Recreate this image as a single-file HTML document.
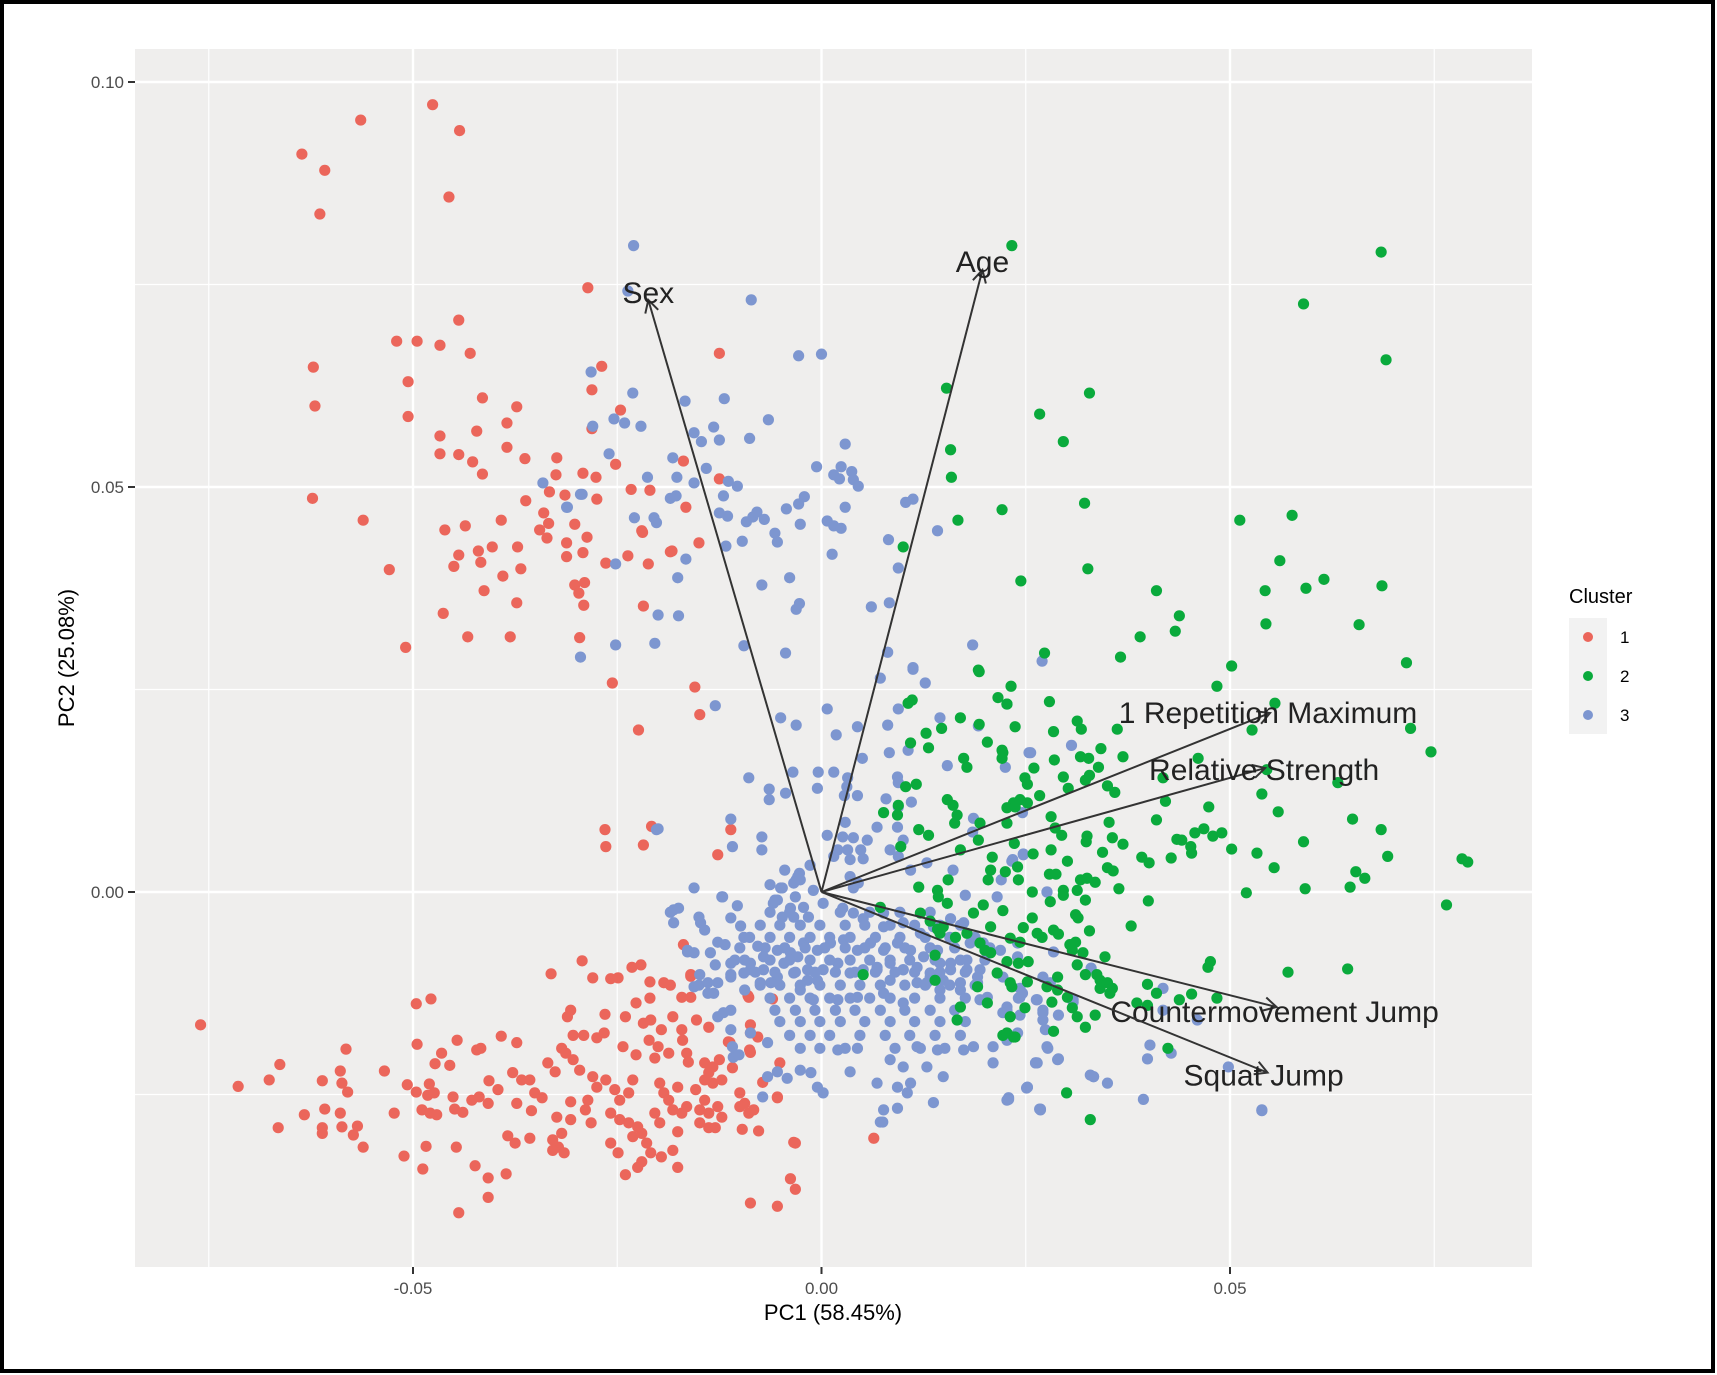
<!DOCTYPE html>
<html><head><meta charset="utf-8"><style>
html,body{margin:0;padding:0;background:#fff}
svg{display:block;font-family:"Liberation Sans",Arial,sans-serif}
</style></head><body>
<svg id="chart" width="1717" height="1375" viewBox="0 0 1717 1375" xmlns="http://www.w3.org/2000/svg">
<rect x="2" y="2" width="1711" height="1369" fill="#fff" stroke="#000" stroke-width="4"/>
<rect x="135" y="49" width="1397" height="1218" fill="#efeeed"/>
<g id="grid"></g>
<g id="pts"></g>
<g id="arrows"></g>
<g id="axes"></g>
<text x="833" y="1320" font-size="22" text-anchor="middle" fill="#000">PC1 (58.45%)</text>
<text transform="translate(74,658) rotate(-90)" font-size="22" text-anchor="middle" fill="#000">PC2 (25.08%)</text>
<g>
<text x="1569" y="603" font-size="20" fill="#000">Cluster</text>
<rect x="1569" y="618" width="38" height="116" fill="#f2f2f2"/>
<circle cx="1588" cy="637" r="5" fill="#eb665b"/>
<circle cx="1588" cy="676" r="5" fill="#0aaa3c"/>
<circle cx="1588" cy="715" r="5" fill="#7d96d0"/>
<text x="1620" y="643" font-size="17">1</text>
<text x="1620" y="682" font-size="17">2</text>
<text x="1620" y="721" font-size="17">3</text>
</g>
</svg>
<script>
const xTicks=[-0.05,0,0.05];
const xTickLabels=["-0.05","0.00","0.05"];
const yTicks=[0,0.05,0.10];
const yTickLabels=["0.00","0.05","0.10"];
const xMinor=[-0.075,-0.025,0.025,0.075];
const yMinor=[-0.025,0.025,0.075];
const loadingNames=["Sex","Age","1 Repetition Maximum","Relative Strength","Countermovement Jump","Squat Jump"];
const loadingX=[-0.0212,0.0197,0.0549,0.0543,0.0557,0.0546];
const loadingY=[0.0731,0.0768,0.0221,0.0153,-0.0142,-0.0223];
const cluster1=[[-0.0636,0.0911],[-0.0608,0.0891],[-0.0614,0.0837],[-0.0564,0.0953],[-0.0476,0.0972],[-0.0443,0.0940],[-0.0456,0.0858],
[-0.062,0.060],[-0.0506,0.0587],[-0.0373,0.0599],[-0.0246,0.0595],[-0.0467,0.0563],[-0.0422,0.0569],[-0.0385,0.0579],[-0.0385,0.0549],[-0.0281,0.0572],[-0.0467,0.0541],[-0.0444,0.0540],[-0.0427,0.0531],[-0.0415,0.0516],[-0.0363,0.0535],[-0.0324,0.0536],[-0.0325,0.0515],[-0.0292,0.0517],[-0.0276,0.0512],[-0.0252,0.0528],[-0.0233,0.0497],[-0.0210,0.0496],[-0.0169,0.0532],[-0.0125,0.0510],[-0.0333,0.0494],[-0.0314,0.0490],[-0.0275,0.0485],[-0.0362,0.0483],[-0.0623,0.0486],[-0.0561,0.0459],[-0.0166,0.0475],[-0.0340,0.0468],[-0.0334,0.0455],[-0.0302,0.0454],[-0.0392,0.0459],[-0.0436,0.0452],[-0.0461,0.0447],[-0.0345,0.0447],[-0.0336,0.0437],[-0.0287,0.0438],[-0.0220,0.0446],[-0.0372,0.0426],[-0.0403,0.0426],[-0.0420,0.0421],[-0.0444,0.0416],[-0.0312,0.0431],[-0.0312,0.0414],[-0.0292,0.0419],[-0.0237,0.0415],[-0.0185,0.0420],[-0.0150,0.0431],[-0.0417,0.0407],[-0.0450,0.0402],[-0.0529,0.0398],[-0.0368,0.0399],[-0.0390,0.0390],[-0.0264,0.0406],[-0.0212,0.0405],[-0.0302,0.0379],[-0.0290,0.0382],[-0.0297,0.0369],[-0.0413,0.0372],[-0.0373,0.0357],[-0.0291,0.0354],[-0.0463,0.0344],[-0.0218,0.0353],[-0.0433,0.0315],[-0.0381,0.0315],[-0.0509,0.0302],[-0.0296,0.0314],[-0.0256,0.0258],[-0.0155,0.0253],[-0.0149,0.0219],[-0.0224,0.0200],[-0.0265,0.0077],[-0.0264,0.0056],[-0.0208,0.0081],[-0.0218,0.0058],[-0.0111,0.0077],[-0.0127,0.0046],
[-0.0444,0.0706],[-0.052,0.068],[-0.0495,0.068],[-0.0467,0.0675],[-0.0430,0.0665],[-0.0506,0.063],[-0.0415,0.061],[-0.0622,0.0648],[-0.0125,0.0665],[-0.0286,0.0746],[-0.0269,0.0649],[-0.0281,0.0620],[-0.0219,0.0444],[-0.0183,0.0421],
[-0.0760,-0.0164],[-0.0714,-0.0240],[-0.0676,-0.0232],[-0.0663,-0.0213],[-0.0665,-0.0291],[-0.0633,-0.0275],[-0.0611,-0.0233],[-0.0608,-0.0268],[-0.0611,-0.0291],[-0.0611,-0.0298],[-0.0589,-0.0221],[-0.0587,-0.0236],[-0.0580,-0.0247],[-0.0589,-0.0273],[-0.0587,-0.0290],[-0.0582,-0.0194],[-0.0568,-0.0289],[-0.0573,-0.0300],[-0.0561,-0.0315],[-0.0535,-0.0221],[-0.0523,-0.0273],[-0.0511,-0.0326],[-0.0507,-0.0238],[-0.0496,-0.0138],[-0.0478,-0.0132],[-0.0495,-0.0188],[-0.0496,-0.0247],[-0.0489,-0.0269],[-0.0479,-0.0273],[-0.0471,-0.0275],[-0.0484,-0.0314],[-0.0488,-0.0342],[-0.0482,-0.0251],[-0.0474,-0.0248],[-0.0480,-0.0237],[-0.0473,-0.0212],[-0.0465,-0.0199],[-0.0455,-0.0214],[-0.0446,-0.0183],[-0.0451,-0.0253],[-0.0449,-0.0268],[-0.0439,-0.0272],[-0.0447,-0.0315],[-0.0444,-0.0396],[-0.0424,-0.0338],[-0.0408,-0.0353],[-0.0408,-0.0377],[-0.0386,-0.0348],[-0.0422,-0.0195],[-0.0417,-0.0193],[-0.0428,-0.0257],[-0.0419,-0.0253],[-0.0408,-0.0261],[-0.0407,-0.0233],[-0.0396,-0.0244],[-0.0392,-0.0178],[-0.0373,-0.0186],[-0.0378,-0.0223],[-0.0367,-0.0232],[-0.0357,-0.0232],[-0.0351,-0.0248],[-0.0342,-0.0254],[-0.0373,-0.0261],[-0.0355,-0.0270],[-0.0384,-0.0301],[-0.0375,-0.0310],[-0.0357,-0.0304],[-0.0331,-0.0101],[-0.0293,-0.0085],[-0.0280,-0.0106],[-0.0258,-0.0107],[-0.0249,-0.0106],[-0.0232,-0.0093],[-0.0221,-0.0090],[-0.0307,-0.0146],[-0.0311,-0.0154],[-0.0335,-0.0211],[-0.0326,-0.0222],[-0.0318,-0.0193],[-0.0313,-0.0199],[-0.0304,-0.0207],[-0.0296,-0.0220],[-0.0304,-0.0177],[-0.0291,-0.0177],[-0.0275,-0.0180],[-0.0266,-0.0174],[-0.0265,-0.0151],[-0.0240,-0.0154],[-0.0227,-0.0137],[-0.0210,-0.0131],[-0.0210,-0.0111],[-0.0193,-0.0112],[-0.0185,-0.0115],[-0.0160,-0.0104],[-0.0171,-0.0130],[-0.0160,-0.0130],[-0.0218,-0.0162],[-0.0209,-0.0158],[-0.0196,-0.0170],[-0.0182,-0.0154],[-0.0171,-0.0170],[-0.0170,-0.0183],[-0.0153,-0.0158],[-0.0138,-0.0167],[-0.0243,-0.0191],[-0.0227,-0.0201],[-0.0211,-0.0183],[-0.0200,-0.0191],[-0.0187,-0.0199],[-0.0204,-0.0205],[-0.0165,-0.0199],[-0.0163,-0.0210],[-0.0143,-0.0211],[-0.0133,-0.0216],[-0.0125,-0.0207],[-0.0112,-0.0186],[-0.0109,-0.0217],[-0.0087,-0.0174],[-0.0089,-0.0130],[-0.0087,-0.0198],[-0.0051,-0.0211],[-0.0280,-0.0228],[-0.0275,-0.0241],[-0.0264,-0.0232],[-0.0286,-0.0257],[-0.0289,-0.0269],[-0.0282,-0.0285],[-0.0307,-0.0259],[-0.0307,-0.0281],[-0.0318,-0.0298],[-0.0329,-0.0306],[-0.0322,-0.0315],[-0.0315,-0.0322],[-0.0329,-0.0319],[-0.0324,-0.0278],[-0.0253,-0.0244],[-0.0247,-0.0257],[-0.0236,-0.0248],[-0.0231,-0.0232],[-0.0258,-0.0273],[-0.0247,-0.0281],[-0.0236,-0.0285],[-0.0258,-0.0310],[-0.0249,-0.0322],[-0.0231,-0.0302],[-0.0220,-0.0298],[-0.0225,-0.0290],[-0.0214,-0.0310],[-0.0209,-0.0322],[-0.0196,-0.0327],[-0.0240,-0.0349],[-0.0225,-0.0340],[-0.0220,-0.0333],[-0.0182,-0.0319],[-0.0176,-0.0340],[-0.0198,-0.0236],[-0.0193,-0.0248],[-0.0187,-0.0257],[-0.0176,-0.0241],[-0.0182,-0.0269],[-0.0171,-0.0273],[-0.0165,-0.0265],[-0.0204,-0.0273],[-0.0198,-0.0285],[-0.0176,-0.0296],[-0.0154,-0.0244],[-0.0143,-0.0232],[-0.0138,-0.0223],[-0.0133,-0.0236],[-0.0122,-0.0232],[-0.0143,-0.0257],[-0.0149,-0.0269],[-0.0138,-0.0273],[-0.0127,-0.0265],[-0.0122,-0.0278],[-0.0149,-0.0285],[-0.0138,-0.0291],[-0.0130,-0.0291],[-0.0100,-0.0248],[-0.0094,-0.0261],[-0.0089,-0.0273],[-0.0083,-0.0269],[-0.0100,-0.0265],[-0.0097,-0.0293],[-0.0077,-0.0295],[-0.0054,-0.0254],[-0.0072,-0.0235],[-0.0032,-0.0310],[-0.0038,-0.0354],[-0.0032,-0.0367],[-0.0087,-0.0384],[-0.0054,-0.0388],[-0.0169,-0.0065],[-0.0090,-0.0128],[-0.0060,-0.0132],[-0.0160,-0.0102],[-0.0087,-0.0164],[-0.0078,-0.0179],[-0.0114,-0.0185],[-0.0054,-0.0253],[-0.0088,-0.0195],[-0.0034,-0.0309],[0.0064,-0.0304]];
const cluster3=[[-0.0230,0.0798],[-0.0237,0.0742],[-0.0086,0.0731],[-0.0028,0.0662],[0.0000,0.0664],[-0.0282,0.0642],[-0.0231,0.0616],[-0.0167,0.0606],[-0.0119,0.0609],[-0.0254,0.0584],[-0.0241,0.0579],[-0.0221,0.0575],[-0.0280,0.0575],[-0.0156,0.0567],[-0.0147,0.0556],[-0.0132,0.0574],[-0.0125,0.0558],[-0.0088,0.0560],[-0.0065,0.0583],[0.0029,0.0553],[-0.0260,0.0541],[-0.0182,0.0536],[-0.0141,0.0523],[-0.0177,0.0512],[-0.0156,0.0505],[-0.0114,0.0507],[-0.0103,0.0501],[-0.0213,0.0512],[-0.0006,0.0525],[0.0024,0.0525],[0.0015,0.0515],[0.0022,0.0510],[0.0037,0.0519],[0.0039,0.0509],[0.0045,0.0501],[-0.0293,0.0491],[-0.0311,0.0475],[-0.0185,0.0486],[-0.0178,0.0489],[-0.0120,0.0489],[-0.0021,0.0488],[-0.0028,0.0479],[-0.0043,0.0473],[0.0029,0.0475],[0.0103,0.0481],[0.0112,0.0485],[-0.0229,0.0462],[-0.0205,0.0462],[-0.0202,0.0456],[-0.0125,0.0468],[-0.0115,0.0464],[-0.0092,0.0457],[-0.0084,0.0463],[-0.0079,0.0469],[-0.0070,0.0460],[-0.0026,0.0454],[0.0007,0.0458],[0.0015,0.0452],[0.0024,0.0449],[-0.0057,0.0443],[-0.0054,0.0432],[-0.0097,0.0433],[-0.0117,0.0427],[0.0082,0.0435],[0.0142,0.0446],[0.0013,0.0417],[-0.0252,0.0405],[-0.0166,0.0411],[-0.0176,0.0388],[-0.0073,0.0379],[-0.0039,0.0388],[0.0094,0.0400],[-0.0031,0.0349],[-0.0027,0.0356],[-0.0200,0.0342],[-0.0175,0.0341],[0.0061,0.0352],[0.0083,0.0357],[-0.0252,0.0305],[-0.0204,0.0307],[-0.0295,0.0290],[-0.0095,0.0304],[-0.0044,0.0295],[0.0081,0.0296],[0.0185,0.0305],[0.0112,0.0277],[-0.0341,0.0505],[-0.0295,0.0491],[-0.0312,0.0475],[0.0270,0.0285],
[-0.0130,0.0230],[-0.0050,0.0215],[-0.0031,0.0206],[0.0007,0.0226],[0.0018,0.0194],[-0.0089,0.0141],[-0.0035,0.0148],[-0.0004,0.0148],[-0.0064,0.0127],[-0.0044,0.0122],[-0.0064,0.0114],[-0.0005,0.0128],[-0.0111,0.0090],[-0.0202,0.0077],[-0.0073,0.0068],[-0.0109,0.0056],[-0.0073,0.0052],[-0.0156,0.0005],[-0.0122,-0.0006],[-0.0050,0.0005],[-0.0031,0.0015],[-0.0027,0.0023],[-0.0010,0.0002],[0.0007,0.0070],
[0.0044,0.0204],[0.0072,0.0264],[0.0094,0.0226],[0.0081,0.0206],[0.0112,0.0275],[0.0127,0.0258],[0.0145,0.0215],[0.0192,0.0205],[0.0050,0.0165],[0.0083,0.0172],[0.0106,0.0175],[0.0254,0.0172],[0.0306,0.0181],[0.0015,0.0148],[0.0032,0.0141],[0.0031,0.0130],[0.0028,0.0119],[0.0044,0.0119],[0.0093,0.0142],[0.0094,0.0135],[0.0079,0.0115],[0.0110,0.0111],[0.0094,0.0105],[0.0154,0.0156],[-0.0200,0.0078],[0.0029,0.0086],[0.0026,0.0068],[0.0039,0.0067],[0.0056,0.0064],[0.0020,0.0052],[0.0032,0.0052],[0.0048,0.0052],[0.0015,0.0044],[0.0035,0.0040],[0.0051,0.0041],[0.0068,0.0080],[0.0093,0.0080],[0.0100,0.0064],[0.0084,0.0052],[0.0094,0.0044],[0.0129,0.0036],[0.0109,0.0027],[0.0161,0.0027],[0.0186,0.0091],[0.0185,0.0074],[0.0220,0.0015],[0.0234,0.0040],[0.0247,0.0047],[0.0176,-0.0004],[0.0276,0.0000],[0.0215,-0.0006],[0.0035,0.0019],[0.0045,0.0011],[0.0039,0.0005],[-0.0029,0.0019],[-0.0034,0.0011],[-0.0048,0.0005],[-0.0054,-0.0010],[-0.0121,-0.0006],[-0.0103,-0.0017],
[-0.0181,-0.0022],[-0.0175,-0.0020],[-0.0181,-0.0038],[-0.0150,-0.0031],[-0.0148,-0.0038],[-0.0111,-0.0032],[-0.0099,-0.0042],[-0.0127,-0.0062],[-0.0095,-0.0056],[-0.0078,-0.0067],[-0.0059,-0.0014],[-0.0038,-0.0020],[-0.0022,-0.0019],[-0.0048,-0.0031],[-0.0034,-0.0031],[-0.0016,-0.0031],[0.0002,-0.0014],[0.0026,-0.0020],[0.0039,-0.0026],[0.0051,-0.0033],[0.0076,-0.0026],[0.0076,-0.0043],[0.0100,-0.0038],[0.0121,-0.0051],[0.0137,-0.0043],[0.0158,-0.0033],[0.0174,-0.0038],[0.0182,-0.0063],[0.0198,-0.0063],[0.0219,-0.0072],[0.0240,-0.0063],
[-0.0164,-0.0074],[-0.0136,-0.0075],[-0.0111,-0.0088],[-0.0087,-0.0096],[-0.0071,-0.0080],[-0.0054,-0.0072],[-0.0038,-0.0075],[-0.0022,-0.0063],[-0.0005,-0.0072],[0.0011,-0.0063],[0.0027,-0.0059],[0.0044,-0.0072],[0.0060,-0.0063],[0.0076,-0.0072],[0.0093,-0.0063],[0.0109,-0.0072],[0.0125,-0.0080],[0.0142,-0.0072],[0.0158,-0.0088],[0.0178,-0.0084],[0.0194,-0.0096],[-0.0075,-0.0112],[-0.0054,-0.0105],[-0.0034,-0.0100],[-0.0017,-0.0109],[0.0002,-0.0096],[0.0020,-0.0088],[0.0035,-0.0100],[0.0051,-0.0096],[0.0068,-0.0093],[0.0084,-0.0109],[0.0100,-0.0096],[0.0117,-0.0112],[0.0133,-0.0100],[0.0149,-0.0109],[0.0170,-0.0112],[0.0191,-0.0112],[0.0203,-0.0130],
[-0.0127,-0.0112],[-0.0111,-0.0105],[-0.0095,-0.0100],[-0.0087,-0.0088],[-0.0071,-0.0096],[-0.0062,-0.0112],[-0.0046,-0.0088],[-0.0029,-0.0080],[-0.0017,-0.0096],[-0.0005,-0.0109],[-0.0026,-0.0121],[-0.0010,-0.0133],[0.0068,-0.0096],[0.0084,-0.0088],[0.0100,-0.0096],[0.0117,-0.0093],[0.0133,-0.0105],[0.0145,-0.0088],[0.0158,-0.0096],[0.0178,-0.0096],[0.0191,-0.0105],[0.0222,-0.0105],[0.0240,-0.0080],[0.0271,-0.0105],[0.0280,-0.0112],[0.0020,-0.0133],[0.0044,-0.0130],[0.0076,-0.0125],[0.0100,-0.0137],[0.0129,-0.0112],[0.0145,-0.0121],[0.0170,-0.0121],[0.0194,-0.0133],[0.0227,-0.0142],
[-0.0156,-0.0117],[-0.0139,-0.0125],[-0.0127,-0.0154],[-0.0111,-0.0170],[-0.0108,-0.0204],[-0.0087,-0.0174],[-0.0066,-0.0186],[-0.0066,-0.0228],[-0.0054,-0.0222],[-0.0042,-0.0230],[-0.0026,-0.0220],[-0.0013,-0.0223],[-0.0005,-0.0241],[0.0002,-0.0248],[0.0020,-0.0195],[0.0035,-0.0222],[0.0044,-0.0193],[0.0068,-0.0236],[0.0076,-0.0269],[0.0072,-0.0284],[0.0093,-0.0241],[0.0093,-0.0267],[0.0109,-0.0236],[0.0105,-0.0248],[0.0084,-0.0207],[0.0100,-0.0216],[0.0117,-0.0191],[0.0129,-0.0216],[0.0137,-0.0260],[0.0149,-0.0228],[0.0142,-0.0195],[0.0174,-0.0195],[0.0186,-0.0191],[0.0210,-0.0191],[0.0210,-0.0211],[0.0240,-0.0174],[0.0252,-0.0241],[0.0264,-0.0211],[0.0268,-0.0269],[0.0276,-0.0191],[0.0227,-0.0257],[0.0289,-0.0207],[0.0308,-0.0133],[0.0333,-0.0228],[0.0271,-0.0149],[0.0243,-0.0130],[0.0264,-0.0133],
[0.0402,-0.0189],[0.0418,-0.0146],[0.0539,-0.0269],[0.0329,-0.0226],[0.0460,-0.0158],[-0.0185,-0.0025],[-0.0164,-0.0072],[-0.0156,-0.0075],[-0.0111,-0.0102],[-0.0150,-0.0115],[-0.0139,-0.0112],[-0.0132,-0.0125],[-0.0120,-0.0149],[-0.0111,-0.0146],[-0.0109,-0.0191],[-0.0101,-0.0201],[-0.0072,-0.0253],[0.0075,-0.0284],[0.0229,-0.0254],[0.0252,-0.0241],[0.0268,-0.0268],[0.0262,-0.0211],
[0.0256,0.0172],[0.0225,0.0154],[0.0246,0.0098],[0.0247,0.0046],[0.0233,0.0038],[0.0276,0.0000],[0.0284,-0.0074],[0.0330,-0.0094],[0.0418,-0.0119],[0.0243,-0.0119],[0.0246,-0.0125],[0.0241,-0.0131],[0.0263,-0.0133],[0.0227,-0.0146],[0.0222,-0.0149],[0.0271,-0.0146],[0.0271,-0.0158],[0.0274,-0.0170],[0.0290,-0.0152],[0.0308,-0.0136],[0.0243,-0.0152],[0.0277,-0.0193],[0.0290,-0.0206],[0.0262,-0.0211],[0.0227,-0.0183],[0.0399,-0.0206],[0.0428,-0.0199],[0.0333,-0.0228],[0.0350,-0.0236],[0.0251,-0.0242],[0.0229,-0.0256],[0.0267,-0.0268],[0.0394,-0.0256],[0.0498,-0.0216],[0.0539,-0.0270],
[-0.0063,-0.0025],[-0.0039,-0.0025],[0.0023,-0.0025],[0.0059,-0.0025],[0.0096,-0.0025],[0.0133,-0.0025],
[-0.0075,-0.0041],[-0.0051,-0.0041],[-0.0026,-0.0041],[-0.0002,-0.0041],[0.0029,-0.0041],[0.0053,-0.0041],[0.0084,-0.0041],[0.0114,-0.0041],[0.0145,-0.0041],[0.0170,-0.0041],
[-0.0088,-0.0056],[-0.0063,-0.0056],[-0.0039,-0.0056],[-0.0014,-0.0056],[0.0010,-0.0056],[0.0035,-0.0056],[0.0066,-0.0056],[0.0096,-0.0056],[0.0127,-0.0056],[0.0157,-0.0056],[0.0188,-0.0056],
[-0.0100,-0.0069],[-0.0069,-0.0069],[-0.0045,-0.0069],[-0.0020,-0.0069],[0.0004,-0.0069],[0.0029,-0.0069],[0.0053,-0.0069],[0.0078,-0.0069],[0.0102,-0.0069],[0.0133,-0.0069],[0.0163,-0.0069],[0.0206,-0.0069],
[-0.0094,-0.0084],[-0.0063,-0.0084],[-0.0039,-0.0084],[-0.0014,-0.0084],[0.0010,-0.0084],[0.0035,-0.0084],[0.0059,-0.0084],[0.0084,-0.0084],[0.0108,-0.0084],[0.0139,-0.0084],[0.0170,-0.0084],[0.0200,-0.0084],
[-0.0081,-0.0099],[-0.0057,-0.0099],[-0.0032,-0.0099],[-0.0008,-0.0099],[0.0017,-0.0099],[0.0041,-0.0099],[0.0066,-0.0099],[0.0090,-0.0099],[0.0114,-0.0099],[0.0145,-0.0099],[0.0176,-0.0099],
[-0.0075,-0.0115],[-0.0051,-0.0115],[-0.0026,-0.0115],[-0.0002,-0.0115],[0.0023,-0.0115],[0.0047,-0.0115],[0.0072,-0.0115],[0.0102,-0.0115],[0.0127,-0.0115],[0.0157,-0.0115],[0.0188,-0.0115],
[-0.0063,-0.0131],[-0.0039,-0.0131],[-0.0014,-0.0131],[0.0010,-0.0131],[0.0035,-0.0131],[0.0059,-0.0131],[0.0084,-0.0131],[0.0114,-0.0131],[0.0145,-0.0131],[0.0176,-0.0131],
[-0.0057,-0.0146],[-0.0032,-0.0146],[-0.0008,-0.0146],[0.0017,-0.0146],[0.0041,-0.0146],[0.0072,-0.0146],[0.0102,-0.0146],[0.0133,-0.0146],[0.0163,-0.0146],
[-0.0051,-0.0160],[-0.0026,-0.0160],[-0.0002,-0.0160],[0.0023,-0.0160],[0.0053,-0.0160],[0.0084,-0.0160],[0.0114,-0.0160],[0.0145,-0.0160],[0.0176,-0.0160],
[-0.0039,-0.0177],[-0.0014,-0.0177],[0.0010,-0.0177],[0.0047,-0.0177],[0.0078,-0.0177],[0.0108,-0.0177],[0.0139,-0.0177],[0.0170,-0.0177],
[-0.0026,-0.0193],[-0.0002,-0.0193],[0.0029,-0.0193],[0.0090,-0.0193],[0.0121,-0.0193],[0.0151,-0.0193],
[-0.0143,-0.0047],[-0.0118,-0.0065],[-0.0106,-0.0084],[-0.0130,-0.0090],[-0.0094,-0.0121],[-0.0149,-0.0102],
[-0.0045,0.0027],[-0.0026,0.0015],[-0.0063,0.0009],[-0.0032,-0.0006],[-0.0014,0.0033],[-0.0057,-0.0010]];
const cluster2=[[0.0233,0.0798],[0.0685,0.0790],[0.0590,0.0726],[0.0691,0.0657],[0.0153,0.0622],[0.0328,0.0616],[0.0267,0.0590],[0.0296,0.0556],[0.0158,0.0546],[0.0159,0.0512],[0.0322,0.0480],[0.0221,0.0472],[0.0167,0.0459],[0.0512,0.0459],[0.0576,0.0465],[0.0100,0.0426],[0.0561,0.0409],[0.0326,0.0399],[0.0244,0.0384],[0.0615,0.0386],[0.0410,0.0372],[0.0543,0.0372],[0.0593,0.0375],[0.0686,0.0378],[0.0438,0.0341],[0.0433,0.0322],[0.0544,0.0331],[0.0658,0.0330],[0.0390,0.0315],[0.0273,0.0295],[0.0366,0.0290],[0.0502,0.0279],[0.0716,0.0283],[0.0192,0.0274],
[0.0232,0.0254],[0.0484,0.0254],[0.0279,0.0235],[0.0555,0.0233],[0.0227,0.0232],[0.0237,0.0204],[0.0313,0.0211],[0.0318,0.0201],[0.0284,0.0198],[0.0362,0.0201],[0.0527,0.0200],[0.0721,0.0202],[0.0222,0.0172],[0.0285,0.0163],[0.0317,0.0167],[0.0327,0.0165],[0.0342,0.0177],[0.0369,0.0167],[0.0461,0.0165],[0.0746,0.0173],[0.0260,0.0153],[0.0339,0.0154],[0.0328,0.0144],[0.0323,0.0138],[0.0249,0.0141],[0.0252,0.0133],[0.0296,0.0142],[0.0302,0.0128],[0.0350,0.0131],[0.0359,0.0123],[0.0418,0.0141],[0.0545,0.0151],[0.0632,0.0135],[0.0539,0.0121],[0.0267,0.0119],[0.0235,0.0110],[0.0243,0.0114],[0.0252,0.0110],[0.0227,0.0104],[0.0237,0.0105],[0.0421,0.0112],[0.0474,0.0105],[0.0559,0.0099],[0.0281,0.0093],[0.0410,0.0089],[0.0650,0.0090],[0.0227,0.0085],[0.0352,0.0086],[0.0685,0.0077],[0.0286,0.0079],[0.0294,0.0070],[0.0325,0.0069],[0.0324,0.0062],[0.0356,0.0067],[0.0369,0.0059],[0.0435,0.0065],[0.0441,0.0064],[0.0457,0.0073],[0.0468,0.0078],[0.0479,0.0069],[0.0490,0.0073],[0.0590,0.0062],[0.0236,0.0060],[0.0281,0.0052],[0.0344,0.0049],[0.0452,0.0056],[0.0453,0.0048],[0.0502,0.0053],[0.0533,0.0048],[0.0259,0.0047],[0.0693,0.0044],[0.0784,0.0041],[0.0791,0.0037],[0.0392,0.0043],[0.0401,0.0036],[0.0428,0.0042],[0.0301,0.0038],[0.0240,0.0031],[0.0241,0.0015],[0.0350,0.0030],[0.0357,0.0026],[0.0554,0.0030],[0.0654,0.0025],[0.0665,0.0017],[0.0225,0.0025],[0.0279,0.0022],[0.0287,0.0022],[0.0317,0.0015],[0.0325,0.0017],[0.0335,0.0012],[0.0647,0.0006],[0.0592,0.0004],[0.0364,0.0004],[0.0258,0.0000],[0.0296,0.0002],[0.0296,-0.0004],[0.0313,0.0002],[0.0520,-0.0001],[0.0400,-0.0011],[0.0280,-0.0012],[0.0323,-0.0010],[0.0765,-0.0016],[0.0222,-0.0023],[0.0311,-0.0028],[0.0314,-0.0032],[0.0258,-0.0032],[0.0379,-0.0042],[0.0247,-0.0044],[0.0264,-0.0051],[0.0270,-0.0056],[0.0284,-0.0047],[0.0290,-0.0052],[0.0328,-0.0048],[0.0231,-0.0057],[0.0243,-0.0062],[0.0304,-0.0065],[0.0311,-0.0062],[0.0307,-0.0072],[0.0320,-0.0075],[0.0347,-0.0080],[0.0476,-0.0086],[0.0473,-0.0093],[0.0571,-0.0099],[0.0644,-0.0095],[0.0227,-0.0086],[0.0241,-0.0088],[0.0253,-0.0086],[0.0313,-0.0090],[0.0323,-0.0102],[0.0337,-0.0102],[0.0341,-0.0109],[0.0350,-0.0112],[0.0356,-0.0119],[0.0341,-0.0119],[0.0353,-0.0125],[0.0289,-0.0105],[0.0252,-0.0111],[0.0276,-0.0117],[0.0289,-0.0121],[0.0233,-0.0117],[0.0399,-0.0114],[0.0410,-0.0125],[0.0453,-0.0126],[0.0484,-0.0131],[0.0438,-0.0133],[0.0386,-0.0137],[0.0399,-0.0140],[0.0282,-0.0136],[0.0301,-0.0130],[0.0307,-0.0143],[0.0313,-0.0154],[0.0323,-0.0167],[0.0335,-0.0152],[0.0249,-0.0143],[0.0231,-0.0154],[0.0284,-0.0172],[0.0235,-0.0179],[0.0222,-0.0177],[0.0424,-0.0193],[0.0300,-0.0248],[0.0329,-0.0281],
[0.0193,0.0272],[0.0216,0.0240],[0.0227,0.0232],[0.0106,0.0233],[0.0111,0.0237],[0.0170,0.0215],[0.0193,0.0207],[0.0147,0.0202],[0.0128,0.0196],[0.0109,0.0184],[0.0131,0.0178],[0.0203,0.0185],[0.0221,0.0175],[0.0221,0.0165],[0.0174,0.0165],[0.0178,0.0154],[0.0103,0.0130],[0.0116,0.0133],[0.0154,0.0114],[0.0161,0.0107],[0.0166,0.0095],[0.0163,0.0085],[0.0094,0.0107],[0.0093,0.0095],[0.0076,0.0098],[0.0194,0.0085],[0.0119,0.0077],[0.0131,0.0070],[0.0097,0.0056],[0.0192,0.0064],[0.0170,0.0052],[0.0209,0.0043],[0.0207,0.0027],[0.0204,0.0015],[0.0155,0.0015],[0.0142,0.0002],[0.0143,-0.0006],[0.0119,0.0006],[0.0154,-0.0014],[0.0186,-0.0026],[0.0198,-0.0016],[0.0072,-0.0019],[0.0121,-0.0026],[0.0133,-0.0036],[0.0142,-0.0046],[0.0149,-0.0043],[0.0145,-0.0051],[0.0207,-0.0043],[0.0164,-0.0056],[0.0178,-0.0051],[0.0194,-0.0063],[0.0200,-0.0072],[0.0207,-0.0075],[0.0139,-0.0078],[0.0215,-0.0100],[0.0191,-0.0117],[0.0231,-0.0112],[0.0203,-0.0137],[0.0170,-0.0142],[0.0166,-0.0158],[0.0227,-0.0174],[0.0237,-0.0179],[0.0051,-0.0102],[0.0139,-0.0109]];

const NS='http://www.w3.org/2000/svg';
const X0=135,X1=1532,Y0=49,Y1=1267;
function sx(v){return 821.5+v*8170;}
function sy(v){return 892-v*8100;}
function mk(tag,attrs,parent){const e=document.createElementNS(NS,tag);for(const k in attrs)e.setAttribute(k,attrs[k]);parent.appendChild(e);return e;}
const grid=document.getElementById('grid');
xMinor.forEach(v=>{const l=mk('line',{x1:sx(v),x2:sx(v),y1:Y0,y2:Y1,stroke:'#fff','stroke-width':1.2},grid);

});
yMinor.forEach(v=>{const l=mk('line',{x1:X0,x2:X1,y1:sy(v),y2:sy(v),stroke:'#fff','stroke-width':1.2},grid);

});
xTicks.forEach(v=>{const l=mk('line',{x1:sx(v),x2:sx(v),y1:Y0,y2:Y1,stroke:'#fff','stroke-width':2.4},grid);

});
yTicks.forEach(v=>{const l=mk('line',{x1:X0,x2:X1,y1:sy(v),y2:sy(v),stroke:'#fff','stroke-width':2.4},grid);

});
const axes=document.getElementById('axes');
xTicks.forEach((v,i)=>{const t=mk('line',{x1:sx(v),x2:sx(v),y1:Y1,y2:Y1+7,stroke:'#333','stroke-width':2},axes);


const s=mk('text',{x:sx(v),y:Y1+27,'font-size':17,'text-anchor':'middle',fill:'#4d4d4d'},axes);s.textContent=xTickLabels[i];

});
yTicks.forEach((v,i)=>{const t=mk('line',{x1:X0-7,x2:X0,y1:sy(v),y2:sy(v),stroke:'#333','stroke-width':2},axes);


const s=mk('text',{x:X0-11,y:sy(v)+6,'font-size':17,'text-anchor':'end',fill:'#4d4d4d'},axes);s.textContent=yTickLabels[i];

});
const pts=document.getElementById('pts');
function drawCluster(arr,color,name){arr.forEach(p=>{const c=mk('circle',{cx:sx(p[0]),cy:sy(p[1]),r:5.6,fill:color},pts);

});}
drawCluster(cluster1,'#eb665b','cluster-1-point');
drawCluster(cluster3,'#7d96d0','cluster-3-point');
drawCluster(cluster2,'#0aaa3c','cluster-2-point');
const arrows=document.getElementById('arrows');
const labelDX=[0,0,-2,-1,-2,-4];
const labelDY=[-7,-8,0,2,5,3];
loadingNames.forEach((n,i)=>{const x1=sx(0),y1=sy(0),x2=sx(loadingX[i]),y2=sy(loadingY[i]);
const ln=mk('line',{x1:x1,y1:y1,x2:x2,y2:y2,stroke:'#333','stroke-width':2},arrows);


const ang=Math.atan2(y2-y1,x2-x1),L=14,sp=0.5;
const hd=mk('polyline',{points:(x2-L*Math.cos(ang-sp))+','+(y2-L*Math.sin(ang-sp))+' '+x2+','+y2+' '+(x2-L*Math.cos(ang+sp))+','+(y2-L*Math.sin(ang+sp)),fill:'none',stroke:'#333','stroke-width':2},arrows);


const t=mk('text',{x:x2+labelDX[i],y:y2+labelDY[i]+10,'font-size':30,'text-anchor':'middle',fill:'#222'},arrows);t.textContent=n;

});
</script>
</body></html>
